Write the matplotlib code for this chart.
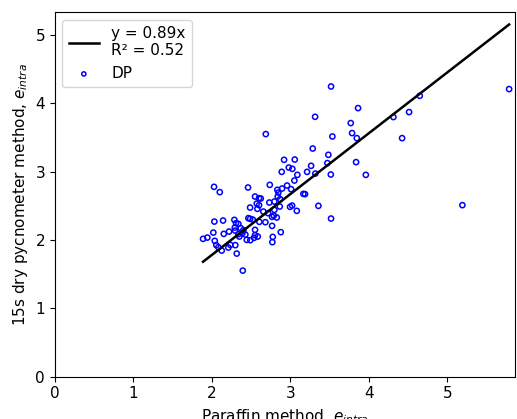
import numpy as np
import matplotlib
matplotlib.use("Agg")
from matplotlib import pyplot as plt

# paraffin method (x) vs 15s dry pycnometer method (y), intra-aggregate void ratio
paraffin = [3.862, 3.315, 3.769, 3.786, 3.846, 3.535, 2.687, 3.285, 3.484, 3.471,
            3.837, 2.920, 3.056, 2.980, 3.025, 2.890, 3.264, 3.213, 3.318, 3.089,
            3.515, 3.961, 3.051, 2.738, 2.958, 2.894, 2.834, 2.847, 3.009, 2.028,
            2.101, 2.461, 2.839, 2.869, 3.166, 3.187, 2.550, 2.601, 2.623, 2.572,
            2.601, 2.732, 2.796, 2.865, 2.996, 3.022, 3.082, 3.357, 2.487, 2.580,
            2.796, 2.656, 2.716, 2.789, 2.767, 2.827, 2.465, 2.487, 2.521, 3.518,
            2.032, 2.143, 2.287, 2.308, 2.338, 2.605, 2.682, 2.767, 2.292, 2.368,
            2.219, 2.152, 2.019, 2.296, 2.401, 2.550, 2.878, 2.338, 2.389, 2.427,
            2.350, 2.550, 2.585, 2.538, 2.445, 2.490, 2.776, 2.771, 1.888, 1.943,
            2.037, 2.057, 2.126, 2.083, 2.210, 2.236, 2.299, 2.317, 2.394, 3.518,
            4.312, 4.512, 4.648, 4.423, 5.191, 5.786]
pycnometer = [3.927, 3.800, 3.708, 3.562, 3.488, 3.512, 3.547, 3.336, 3.244, 3.123,
              3.137, 3.171, 3.175, 3.058, 3.039, 2.995, 3.083, 2.995, 2.970, 2.951,
              2.956, 2.951, 2.868, 2.805, 2.795, 2.751, 2.732, 2.692, 2.742, 2.776,
              2.698, 2.766, 2.634, 2.596, 2.673, 2.669, 2.634, 2.610, 2.605, 2.531,
              2.508, 2.546, 2.561, 2.488, 2.483, 2.502, 2.425, 2.498, 2.473, 2.454,
              2.439, 2.414, 2.391, 2.356, 2.337, 2.327, 2.318, 2.308, 2.297, 2.312,
              2.268, 2.283, 2.293, 2.245, 2.234, 2.264, 2.259, 2.205, 2.180, 2.172,
              2.122, 2.088, 2.107, 2.136, 2.142, 2.147, 2.113, 2.084, 2.098, 2.078,
              2.049, 2.069, 2.049, 2.030, 2.000, 1.996, 2.044, 1.967, 2.015, 2.034,
              1.986, 1.923, 1.844, 1.893, 1.888, 1.927, 1.923, 1.800, 1.551, 4.243,
              3.796, 3.869, 4.107, 3.488, 2.508, 4.205]
slope = 0.89
r2 = 0.52

x = np.array(paraffin)
y = np.array(pycnometer)

fig = plt.figure(figsize=(5.17, 4.19), dpi=100)
ax = fig.add_axes([0.106, 0.101, 0.89, 0.87])

xf = np.array([x.min(), x.max()])
ax.plot(xf, slope * xf, color="black", linewidth=1.8,
        label="y = %.2fx\nR² = %.2f" % (slope, r2))
ax.scatter(x, y, s=14, facecolors="none", edgecolors="blue", linewidths=1.1, label="DP")

ax.set_xlim(0, 5.86)
ax.set_ylim(0, 5.33)
ax.set_xticks([0, 1, 2, 3, 4, 5])
ax.set_yticks([0, 1, 2, 3, 4, 5])
ax.set_xlabel("Paraffin method, $e_{intra}$", fontsize=11)
ax.set_ylabel("15s dry pycnometer method, $e_{intra}$", fontsize=11)
ax.tick_params(labelsize=11)
ax.legend(loc="upper left", fontsize=11, handlelength=2.0, markerscale=0.8)

fig.savefig("out.png", dpi=100)
